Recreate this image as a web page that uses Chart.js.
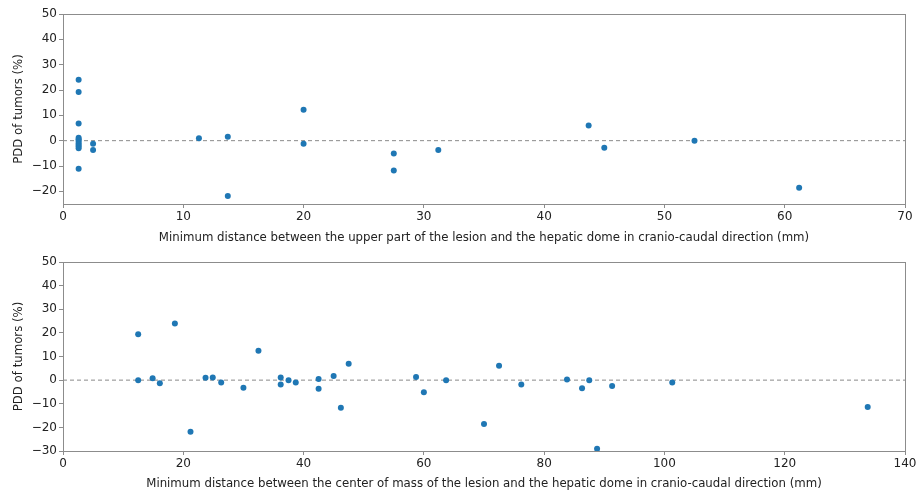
<!DOCTYPE html>
<html>
<head>
<meta charset="utf-8">
<script src="https://cdn.jsdelivr.net/npm/chart.js@4"></script>
<style>
  body { margin: 0; background: #fff; }
  .box { position: absolute; left: 0; width: 919px; }
</style>
</head>
<body>
<div class="box" style="top:0;height:245px"><canvas id="topChart" width="919" height="245"></canvas></div>
<div class="box" style="top:245px;height:246px"><canvas id="bottomChart" width="919" height="246"></canvas></div>
<script>
// top panel: distance from upper part of lesion (mm) vs PDD (%)
var upperX = [1.3,1.3,1.3,1.3,1.3,1.3,1.3,1.3,1.3,1.3,1.3, 2.5,2.5, 11.3, 13.7,13.7, 20.0,20.0, 27.5,27.5, 31.2, 43.7, 45.0, 52.5, 61.2];
var upperY = [24.0,19.2,6.8,1.2,0.6,0,-0.8,-1.5,-2.2,-3.0,-11.1, -1.2,-3.7, 1.0, 1.5,-21.8, 12.2,-1.2, -5.1,-11.8, -3.7, 6.0, -2.8, 0, -18.6];

// bottom panel: distance from center of mass (mm) vs PDD (%)
var centerX = [12.5,12.5,14.9,16.1,18.6,21.2,23.7,24.9,26.3,30.0,32.5,36.2,36.2,37.5,38.7,42.5,42.5,45.0,46.2,47.5,
               58.7,60.0,63.7,70.0,72.5,76.2,83.8,86.3,87.5,88.8,91.3,101.3,133.8];
var centerY = [19.4,0,0.8,-1.3,24.0,-21.9,1.0,1.1,-1.0,-3.2,12.4,1.1,-1.8,0,-1.0,0.5,-3.7,1.7,-11.7,6.9,
               1.3,-5.1,-0.1,-18.6,6.1,-1.8,0.3,-3.4,0,-29.1,-2.5,-1.0,-11.4];

var yTicks = [-30,-20,-10,0,10,20,30,40,50];

function pairs(xs, ys){
    var out = [];
    for(var i = 0; i < xs.length; i++){
        out.push({x: xs[i], y: ys[i]});
    }
    return out;
}

var frame = {
    id: "frame",
    afterDraw: function(chart){
        var a = chart.chartArea;
        var ctx = chart.ctx;
        ctx.save();
        ctx.strokeStyle = "#8c8c8c";
        ctx.lineWidth = 1;
        ctx.strokeRect(Math.round(a.left) + 0.5, Math.round(a.top) + 0.5, Math.round(a.right - a.left), Math.round(a.bottom - a.top));
        ctx.restore();
    }
};

function makeChart(id, xs, ys, xMax, yMin, xTitle, padTop, xHeight){
    var font = {family: "'DejaVu Sans'", size: 12};
    var titleFont = {family: "'DejaVu Sans'", size: 11.75};
    new Chart(id, {
        type: "scatter",
        data: {
            datasets: [{
                data: pairs(xs, ys),
                backgroundColor: "#1f77b4",
                borderColor: "#1f77b4",
                pointRadius: 3,
                borderWidth: 0
            },{
                type: "line",
                data: [{x: 0, y: 0}, {x: xMax, y: 0}],
                borderColor: "#8a8a8a",
                borderWidth: 1,
                borderDash: [4, 3],
                pointRadius: 0
            }]
        },
        options: {
            responsive: false,
            animation: false,
            layout: {padding: {top: padTop, right: 14, left: 12, bottom: 0}},
            plugins: {legend: {display: false}, tooltip: {enabled: false}},
            scales: {
                x: {
                    type: "linear",
                    min: 0,
                    max: xMax,
                    ticks: {stepSize: xMax == 70 ? 10 : 20, color: "#222", font: font, padding: 2, maxRotation: 0},
                    grid: {drawOnChartArea: false, color: "#8c8c8c", tickLength: 4},
                    border: {color: "#8c8c8c"},
                    title: {display: true, text: xTitle, color: "#222", font: titleFont, padding: {top: 2, bottom: 0}},
                    afterFit: function(s){ s.height = xHeight; }
                },
                y: {
                    min: yMin,
                    max: 50,
                    afterBuildTicks: function(s){
                        s.ticks = yTicks.filter(function(v){ return v >= yMin; }).map(function(v){ return {value: v}; });
                    },
                    ticks: {
                        color: "#222", font: font, padding: 2,
                        callback: function(v){ return v < 0 ? "\u2212" + Math.abs(v) : v; }
                    },
                    grid: {drawOnChartArea: false, color: "#8c8c8c", tickLength: 4},
                    border: {color: "#8c8c8c"},
                    title: {display: true, text: "PDD of tumors (%)", color: "#222", font: titleFont, padding: {top: 0, bottom: 4}},
                    afterFit: function(s){ s.width = 51; }
                }
            }
        },
        plugins: [frame]
    });
}

makeChart("topChart", upperX, upperY, 70, -25,
    "Minimum distance between the upper part of the lesion and the hepatic dome in cranio-caudal direction (mm)", 14, 41);
makeChart("bottomChart", centerX, centerY, 140, -30,
    "Minimum distance between the center of mass of the lesion and the hepatic dome in cranio-caudal direction (mm)", 17, 40);
</script>
</body>
</html>
